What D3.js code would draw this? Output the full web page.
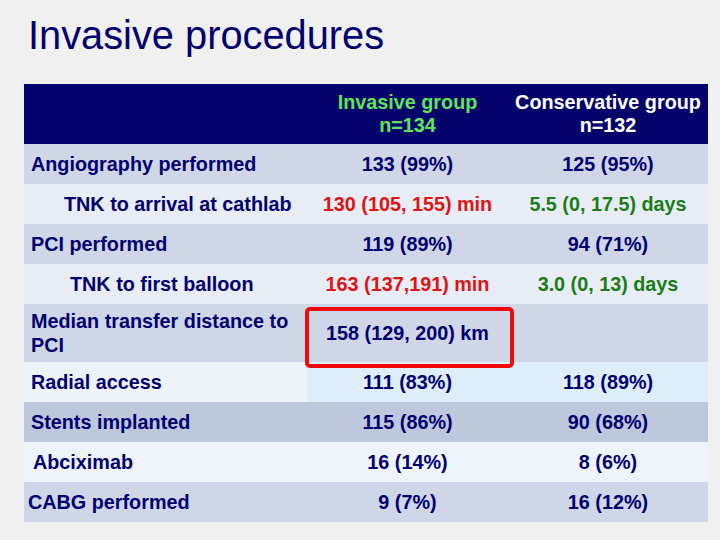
<!DOCTYPE html>
<html lang="en">
<head>
<meta charset="utf-8">
<title>Invasive procedures</title>
<script src="https://cdn.jsdelivr.net/npm/d3@7"></script>
<style>
  body { margin: 0; background: #f0f0f0; }
  svg { display: block; font-family: "Liberation Sans", Arial, sans-serif; }
</style>
</head>
<body>
<div id="chart"></div>
<script>
// table content
var headers = [["Invasive group", "n=134"], ["Conservative group", "n=132"]]
var labels = [
  ["Angiography performed"],
  ["TNK to arrival at cathlab"],
  ["PCI performed"],
  ["TNK to first balloon"],
  ["Median transfer distance to", "PCI"],
  ["Radial access"],
  ["Stents implanted"],
  ["Abciximab"],
  ["CABG performed"]
]
var invasive = ["133 (99%)", "130 (105, 155) min", "119 (89%)", "163 (137,191) min",
  "158 (129, 200) km", "111 (83%)", "115 (86%)", "16 (14%)", "9 (7%)"]
var conservative = ["125 (95%)", "5.5 (0, 17.5) days", "94 (71%)", "3.0 (0, 13) days",
  "", "118 (89%)", "90 (68%)", "8 (6%)", "16 (12%)"]
var highlighted = "158 (129, 200) km"

// layout + styles
var W = 720, H = 540
var left = 24, right = 708
var colX = [left, 307, 508, right]
var headTop = 84, headH = 60
var rowH = 40, lineH = 24
var fs = "19.8px"
var labelX = [31, 64, 31, 70, 31, 31, 31, 33, 28]
var rowFill = ["#ced6e8", "#e8ecf4", "#ced6e8", "#e8ecf4", "#ced6e8", "#ddedfa", "#bdc8dd", "#eef4fa", "#ced6e8"]
var labelFill = ["#ced6e8", "#e8ecf4", "#ced6e8", "#e8ecf4", "#ced6e8", "#eef3f9", "#bdc8dd", "#eef4fa", "#ced6e8"]
var navy = "#000070"
var cellColor = [
  [navy, navy], ["#dd1414", "#1a7d1a"], [navy, navy], ["#dd1414", "#1a7d1a"],
  [navy, navy], [navy, navy], [navy, navy], [navy, navy], [navy, navy]
]

var svg = d3.select("#chart").append("svg").attr("width", W).attr("height", H)

svg.append("rect").attr("width", W).attr("height", H).attr("fill", "#f0f0f0")

svg.append("text")
  .attr("x", 28).attr("y", 49)
  .attr("fill", navy)
  .style("font-size", "39.8px")
  .text("Invasive procedures")

// row tops from line counts
var tops = []
var y = headTop + headH
labels.forEach(function(l){
  tops.push(y)
  y += rowH + (l.length - 1) * 18
})
tops.push(y)

// header
svg.append("rect")
  .attr("x", left).attr("y", headTop)
  .attr("width", right - left).attr("height", headH)
  .attr("fill", "#03036b")

headers.forEach(function(h, i){
  var cx = (colX[i+1] + colX[i+2]) / 2
  var t = svg.append("text")
    .attr("text-anchor", "middle")
    .attr("fill", i == 0 ? "#5ee65a" : "#ffffff")
    .style("font-size", fs).style("font-weight", "bold")
  h.forEach(function(s, j){
    t.append("tspan").attr("x", cx).attr("y", headTop + 25 + j * 23).text(s)
  })
})

var rows = svg.selectAll(".row").data(labels).enter().append("g").attr("class", "row")

rows.append("rect")
  .attr("x", left).attr("y", function(d, i){ return tops[i] })
  .attr("width", colX[1] - left)
  .attr("height", function(d, i){ return tops[i+1] - tops[i] })
  .attr("fill", function(d, i){ return labelFill[i] })

rows.append("rect")
  .attr("x", colX[1]).attr("y", function(d, i){ return tops[i] })
  .attr("width", right - colX[1])
  .attr("height", function(d, i){ return tops[i+1] - tops[i] })
  .attr("fill", function(d, i){ return rowFill[i] })

rows.append("text")
  .attr("fill", navy)
  .style("font-size", fs).style("font-weight", "bold")
  .each(function(d, i){
    var mid = (tops[i] + tops[i+1]) / 2
    var first = mid + 7 - (d.length - 1) * lineH / 2
    var t = d3.select(this)
    d.forEach(function(s, j){
      t.append("tspan").attr("x", labelX[i]).attr("y", first + j * lineH).text(s)
    })
  })

;[invasive, conservative].forEach(function(col, c){
  var cx = (colX[c+1] + colX[c+2]) / 2
  svg.selectAll(".c" + c).data(col).enter().append("text")
    .attr("x", cx)
    .attr("y", function(d, i){ return (tops[i] + tops[i+1]) / 2 + 7 })
    .attr("text-anchor", "middle")
    .attr("fill", function(d, i){ return cellColor[i][c] })
    .style("font-size", fs).style("font-weight", "bold")
    .text(function(d){ return d })
})

// red highlight box
var hi = invasive.indexOf(highlighted)
svg.append("rect")
  .attr("x", 307).attr("y", tops[hi] + 5)
  .attr("width", 205).attr("height", tops[hi+1] - tops[hi] - 1)
  .attr("rx", 3)
  .attr("fill", "none")
  .attr("stroke", "#ee0a0a")
  .attr("stroke-width", 4)
</script>
</body>
</html>
